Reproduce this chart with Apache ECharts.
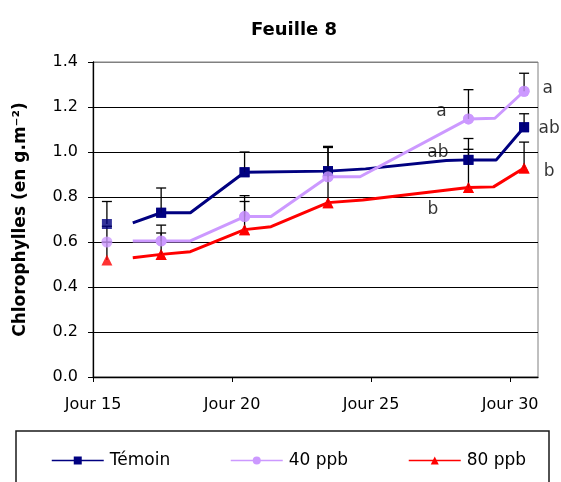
<!DOCTYPE html>
<html><head><meta charset="utf-8">
<script src="https://cdn.jsdelivr.net/npm/echarts@6/dist/echarts.min.js"></script>
<style>html,body{margin:0;padding:0;background:#fff}#c{width:561px;height:482px}</style>
</head><body><div id="c"></div>
<script>
// ---- data ----
const seriesNames = ['Témoin', '40 ppb', '80 ppb'];
const xTickValues = [15, 20, 25, 30];
const xTickPrefix = 'Jour ';
const yTicks = [0, 0.2, 0.4, 0.6, 0.8, 1.0, 1.2, 1.4];

// measured days (markers)
const markerDays = [15.5, 17.45, 20.45, 23.45, 28.5, 30.5];
const temoinVals = [0.68, 0.73, 0.91, 0.915, 0.965, 1.11];
const temoinErr  = [0.10, 0.11, 0.09, 0.11, 0.095, 0.06];
const ppb40Vals  = [0.60, 0.605, 0.713, 0.89, 1.147, 1.27];
const ppb40Err   = [0.07, 0.07, 0.093, 0.13, 0.13, 0.08];
const ppb80Vals  = [0.52, 0.545, 0.655, 0.775, 0.842, 0.929];
const ppb80Err   = [0.08, 0.095, 0.125, 0.14, 0.17, 0.115];

// connected line paths (day, value)
const temoinLineDays = [16.43, 17.45, 18.5, 20.45, 23.45, 24.8, 27.7, 28.5, 29.5, 30.5];
const temoinLineVals = [0.685, 0.73, 0.73, 0.91, 0.915, 0.925, 0.962, 0.965, 0.965, 1.11];
const ppb40LineDays  = [16.43, 17.45, 18.5, 20.45, 21.4, 23.45, 24.6, 28.5, 29.45, 30.5];
const ppb40LineVals  = [0.605, 0.605, 0.605, 0.713, 0.713, 0.89, 0.89, 1.147, 1.15, 1.27];
const ppb80LineDays  = [16.43, 17.45, 18.5, 20.45, 21.4, 23.45, 24.7, 28.5, 29.4, 30.5];
const ppb80LineVals  = [0.53, 0.545, 0.557, 0.655, 0.668, 0.775, 0.787, 0.842, 0.845, 0.929];

// significance letters
const letterText = ['a', 'ab', 'b', 'a', 'ab', 'b'];
const letterDays = [27.53, 27.40, 27.22, 31.35, 31.4, 31.4];
const letterVals = [1.18, 0.996, 0.744, 1.28, 1.103, 0.913];

// ---- build ----
const FONT = 'DejaVu Sans';
const colors = ['#000080', '#CC99FF', '#FF0000'];
const symbols = ['rect', 'circle', 'triangle'];
const symSizes = [10, 11, 11];
const markerVals = [temoinVals, ppb40Vals, ppb80Vals];
const errVals = [temoinErr, ppb40Err, ppb80Err];
const lineDays = [temoinLineDays, ppb40LineDays, ppb80LineDays];
const lineVals = [temoinLineVals, ppb40LineVals, ppb80LineVals];

const series = [];
for (let s = 0; s < 3; s++) {
  series.push({
    type: 'custom', name: seriesNames[s] + ' err', z: 3, silent: true,
    data: markerDays.map((d, i) => [d, markerVals[s][i], markerVals[s][i] + errVals[s][i]]),
    renderItem: function (params, api) {
      const p0 = api.coord([api.value(0), api.value(1)]);
      const p1 = api.coord([api.value(0), api.value(2)]);
      const h = 5;
      return { type: 'group', children: [
        { type: 'line', shape: { x1: p0[0], y1: p0[1], x2: p1[0], y2: p1[1] }, style: { stroke: '#000', lineWidth: 1.3 } },
        { type: 'line', shape: { x1: p1[0] - h, y1: p1[1], x2: p1[0] + h, y2: p1[1] }, style: { stroke: '#000', lineWidth: 1.3 } }
      ]};
    }
  });
}
for (let s = 0; s < 3; s++) {
  const mset = new Set(markerDays.map(String));
  const data = lineDays[s].map((d, i) => {
    const isM = mset.has(String(d));
    return { value: [d, lineVals[s][i]], symbol: isM ? symbols[s] : 'none' };
  });
  series.push({
    type: 'line', name: seriesNames[s], z: 2 + s * 0.1,
    symbol: symbols[s], symbolSize: symSizes[s], showSymbol: true,
    color: colors[s], lineStyle: { width: 3, color: colors[s] },
    itemStyle: { color: colors[s] },
    data: data, animation: false, emphasis: { disabled: true }
  });
  series.push({
    type: 'scatter', name: seriesNames[s] + ' first', z: 4,
    symbol: symbols[s], symbolSize: symSizes[s], itemStyle: { color: colors[s] },
    data: [[markerDays[0], markerVals[s][0]]], animation: false, silent: true
  });
  series.push({
    type: 'scatter', name: seriesNames[s] + ' mk', z: 4,
    symbol: symbols[s], symbolSize: symSizes[s], itemStyle: { color: colors[s] },
    data: markerDays.slice(1).map((d, i) => [d, markerVals[s][i + 1]]), animation: false, silent: true
  });
}
series.push({
  type: 'scatter', name: 'letters', z: 5, symbolSize: 0, clip: false, silent: true,
  data: letterDays.map((d, i) => ({ value: [d, letterVals[i]], name: letterText[i] })),
  label: { show: true, position: 'inside', formatter: p => p.name, color: '#000', fontFamily: FONT, fontSize: 17 }
});

const legendLefts = [46, 225, 403];
const legends = seriesNames.map((n, i) => ({
  data: [n], left: legendLefts[i], top: 447, itemWidth: 52, itemHeight: 10, itemGap: 6,
  textStyle: { fontFamily: FONT, fontSize: 17, color: '#000', padding: [0, 0, 0, 1] },
  itemStyle: { color: colors[i] },
  lineStyle: { width: 1.5, color: colors[i] }, selectedMode: false
}));

const option = {
  animation: false,
  backgroundColor: '#fff',
  title: { text: 'Feuille 8', left: 246, top: 16,
    textStyle: { fontFamily: FONT, fontSize: 18, fontWeight: 'bold', color: '#000' } },
  grid: { left: 93, top: 62, right: 23, bottom: 105, show: true, borderColor: '#808080', borderWidth: 1 },
  xAxis: {
    type: 'value', min: 15, max: 31, interval: 5,
    axisLine: { lineStyle: { color: '#000', width: 1.3 } },
    axisTick: { show: true, length: 5, lineStyle: { color: '#000' }, customValues: xTickValues },
    axisLabel: { customValues: xTickValues, formatter: v => xTickPrefix + v, margin: 20,
      fontFamily: FONT, fontSize: 16, color: '#000' },
    splitLine: { show: false }
  },
  yAxis: {
    type: 'value', min: 0, max: 1.4, interval: 0.2,
    name: 'Chlorophylles (en g.m⁻²)', nameLocation: 'middle', nameGap: 64, nameRotate: 90,
    nameTextStyle: { fontFamily: FONT, fontSize: 17, fontWeight: 'bold', color: '#000' },
    axisLine: { show: true, lineStyle: { color: '#000', width: 1.3 } },
    axisTick: { show: true, length: 5, lineStyle: { color: '#000' } },
    axisLabel: { formatter: v => v.toFixed(1), margin: 15, fontFamily: FONT, fontSize: 16, color: '#000' },
    splitLine: { show: true, lineStyle: { color: ['#000', '#000', '#000', '#000', '#000', '#000', '#000', '#808080'], width: 1.2 } }
  },
  legend: legends,
  graphic: [{ type: 'rect', shape: { x: 16, y: 431, width: 533, height: 70 },
    style: { fill: 'none', stroke: '#1a1a1a', lineWidth: 1.5 }, silent: true }],
  series: series
};
const chart = echarts.init(document.getElementById('c'), null, { renderer: 'canvas' });
chart.setOption(option);
</script></body></html>
